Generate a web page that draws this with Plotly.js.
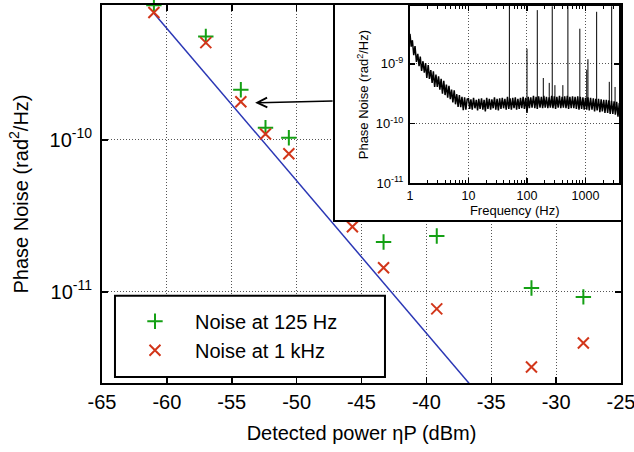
<!DOCTYPE html>
<html><head><meta charset="utf-8">
<script src="https://cdn.plot.ly/plotly-3.0.1.min.js"></script>
<style>html,body{margin:0;padding:0;background:#fff}#chart{width:634px;height:452px}</style>
</head><body><div id="chart"></div>
<script>
// ---- main chart data ----
const power125 = [-61.0, -57.0, -54.3, -52.4, -50.6, -43.3, -39.2, -31.9, -27.9];
const noise125 = [7.66e-10, 4.77e-10, 2.13e-10, 1.2e-10, 1.03e-10, 2.13e-11, 2.33e-11, 1.06e-11, 9.27e-12];
const power1k = [-61.0, -57.0, -54.3, -52.4, -50.6, -45.7, -43.3, -39.2, -31.9, -27.9];
const noise1k = [6.86e-10, 4.35e-10, 1.78e-10, 1.09e-10, 8.09e-11, 2.68e-11, 1.44e-11, 7.73e-12, 3.21e-12, 4.61e-12];
const limitPower = [-61.0, -36.7];
const limitNoise = [6.8e-10, 2.5e-12];
const seriesNames = ['Noise at 125 Hz', 'Noise at 1 kHz'];

const mainXTickVals = [-65, -60, -55, -50, -45, -40, -35, -30, -25];
const mainXTickText = ['-65', '-60', '-55', '-50', '-45', '-40', '-35', '-30', '-25'];
const mainYTickVals = [1e-11, 1e-10];
const mainYTickText = ['10<sup>-11</sup>', '10<sup>-10</sup>'];

// ---- inset spectrum data ----
const specFreq = [
  1, 1.05, 1.1, 1.16, 1.22, 1.29, 1.36, 1.43, 1.5, 1.58, 1.67, 1.76, 1.85, 1.94, 2.05,
  2.15, 2.27, 2.39, 2.51, 2.64, 2.78, 2.93, 3.08, 3.24, 3.41, 3.59, 3.78, 3.98, 4.19, 4.41,
  4.64, 4.89, 5.14, 5.41, 5.7, 6, 6.31, 6.64, 6.99, 7.36, 7.74, 8.15, 8.58, 9.03, 9.5,
  10, 10.5, 11, 11.6, 12.2, 12.9, 13.6, 14.3, 15, 15.8, 16.7, 17.6, 18.5, 19.4, 20.5,
  21.5, 22.7, 23.9, 25.1, 26.4, 27.8, 29.3, 30.8, 32.4, 34.1, 35.9, 37.8, 39.8, 41.9, 44.1,
  46.4, 48.9, 51.4, 54.1, 57, 60, 63.1, 66.4, 69.9, 73.6, 77.4, 81.5, 85.8, 90.3, 95,
  100, 105, 110, 116, 122, 129, 136, 143, 150, 158, 167, 176, 185, 194, 205,
  215, 227, 239, 251, 264, 278, 293, 308, 324, 341, 359, 378, 398, 419, 441,
  464, 489, 514, 541, 570, 600, 631, 664, 699, 736, 774, 815, 858, 903, 950,
  1000, 1050, 1100, 1160, 1220, 1290, 1360, 1430, 1500, 1580, 1670, 1760, 1850, 1940, 2050,
  2150, 2270, 2390, 2510, 2640, 2780, 2930, 3080, 3240, 3410, 3590, 3780
];
const specNoise = [
  3.2e-9, 1.95e-9, 2.5e-9, 1.4e-9, 2.0e-9, 1.08e-9, 1.48e-9, 9.2e-10, 1.33e-9, 7.6e-10,
  1.11e-9, 7.1e-10, 1.03e-9, 5.8e-10, 9.6e-10, 5.6e-10, 7.9e-10, 4.8e-10, 7.5e-10, 4.1e-10,
  6.6e-10, 4.1e-10, 6.2e-10, 3.7e-10, 5.6e-10, 3.15e-10, 5.2e-10, 3.0e-10, 4.5e-10, 2.7e-10,
  4.3e-10, 2.56e-10, 3.7e-10, 2.26e-10, 3.6e-10, 2.1e-10, 3.1e-10, 1.9e-10, 3.0e-10, 1.88e-10,
  2.8e-10, 1.68e-10, 2.74e-10, 1.71e-10, 2.57e-10,
  2.6e-10, 1.75e-10, 2.55e-10, 1.7e-10, 2.7e-10, 1.8e-10, 2.5e-10, 1.65e-10, 2.6e-10, 1.75e-10,
  2.65e-10, 1.7e-10, 2.5e-10, 1.6e-10, 2.7e-10, 1.75e-10, 2.6e-10, 1.7e-10, 2.55e-10, 1.8e-10,
  2.75e-10, 1.7e-10, 2.6e-10, 1.65e-10, 2.65e-10, 1.75e-10, 2.7e-10, 1.8e-10, 2.6e-10, 1.7e-10,
  2.8e-10, 1.75e-10, 2.65e-10, 1.7e-10, 2.7e-10, 1.8e-10, 2.75e-10, 1.7e-10, 2.6e-10, 1.75e-10,
  2.7e-10, 1.8e-10, 2.8e-10, 1.75e-10, 2.7e-10,
  1.5e-10, 2.8e-10, 1.8e-10, 2.75e-10, 1.85e-10, 2.9e-10, 1.8e-10, 2.8e-10, 1.75e-10, 2.85e-10,
  1.85e-10, 2.8e-10, 1.8e-10, 2.9e-10, 1.85e-10, 2.8e-10, 1.8e-10, 2.75e-10, 1.85e-10, 2.9e-10,
  1.8e-10, 2.85e-10, 1.75e-10, 2.8e-10, 1.85e-10, 2.9e-10, 1.8e-10, 2.8e-10, 1.85e-10, 2.85e-10,
  1.8e-10, 2.9e-10, 1.75e-10, 2.8e-10, 1.8e-10, 2.85e-10, 1.8e-10, 2.8e-10, 1.75e-10, 2.85e-10,
  1.7e-10, 2.8e-10, 1.75e-10, 2.75e-10, 1.7e-10,
  2.7e-10, 1.7e-10, 2.75e-10, 1.65e-10, 2.7e-10, 1.7e-10, 2.65e-10, 1.6e-10, 2.6e-10, 1.65e-10,
  2.6e-10, 1.55e-10, 2.55e-10, 1.6e-10, 2.5e-10, 1.5e-10, 2.5e-10, 1.5e-10, 2.45e-10, 1.45e-10,
  2.4e-10, 1.45e-10, 2.35e-10, 1.4e-10, 2.3e-10, 1.3e-10, 2.2e-10
];
const spikeFreq = [50, 100, 150, 190, 240, 270, 300, 410, 500, 800, 1050, 1100, 1550, 2550, 2800, 3200];
const spikePeak = [2e-8, 1.8e-9, 8e-9, 5.8e-10, 4.8e-10, 2e-8, 4.4e-10, 4.4e-10, 2e-8, 3.9e-9, 8e-10, 1.2e-9, 7.5e-9, 5e-10, 2e-8, 4.1e-10];
const spikeBase = 2.0e-10;

const insetXTickVals = [1, 10, 100, 1000];
const insetXTickText = ['1', '10', '100', '1000'];
const insetYTickVals = [1e-11, 1e-10, 1e-9];
const insetYTickText = ['10<sup>-11</sup>', '10<sup>-10</sup>', '10<sup>-9</sup>'];

const FONT = 'Liberation Sans, Arial, Helvetica, sans-serif';

const spikeX = [], spikeY = [];
spikeFreq.forEach((f, i) => { spikeX.push(f, f, null); spikeY.push(spikeBase, spikePeak[i], null); });

const green = '#14a014', red = '#d2361a', blue = '#2b37b5';

const traces = [
  {x: limitPower, y: limitNoise, mode: 'lines', line: {color: blue, width: 1.5}, showlegend: false, hoverinfo: 'skip'},
  {x: power125, y: noise125, mode: 'markers', name: seriesNames[0], cliponaxis: false,
   marker: {symbol: 'cross-thin', size: 11, color: green, line: {color: green, width: 2}}},
  {x: power1k, y: noise1k, mode: 'markers', name: seriesNames[1], cliponaxis: false,
   marker: {symbol: 'x-thin', size: 11, color: red, line: {color: red, width: 2}}},
  {x: [], y: [], xaxis: 'x2', yaxis: 'y2', showlegend: false, hoverinfo: 'skip'},
  {x: specFreq, y: specNoise, xaxis: 'x3', yaxis: 'y3', mode: 'lines', line: {color: '#000', width: 1.5}, showlegend: false, hoverinfo: 'skip'},
  {x: spikeX, y: spikeY, xaxis: 'x3', yaxis: 'y3', mode: 'lines', line: {color: '#000', width: 1}, showlegend: false, connectgaps: false, hoverinfo: 'skip'}
];

const frame = {showline: true, linecolor: '#000', linewidth: 2, zeroline: false, fixedrange: true};
const grid = {showgrid: true, gridcolor: '#555', griddash: '1px,2px', gridwidth: 1};

const layout = {
  width: 634, height: 452,
  margin: {l: 102, r: 13, t: 5, b: 69},
  paper_bgcolor: '#fff', plot_bgcolor: '#fff',
  font: {family: FONT, size: 20, color: '#000'},
  showlegend: true,
  xaxis: Object.assign({}, frame, grid, {
    domain: [0, 1], range: [-65, -25], tickvals: mainXTickVals, ticktext: mainXTickText,
    ticks: 'inside', ticklen: 6, tickwidth: 1.5, tickcolor: '#000', mirror: 'ticks',
    ticklabelstandoff: 0, ticklabeloverflow: 'allow', tickfont: {size: 20},
    title: {text: 'Detected power ηP (dBm)', font: {size: 20}, standoff: 14}
  }),
  yaxis: Object.assign({}, frame, grid, {
    type: 'log', range: [-11.599, -9.114], tickvals: mainYTickVals, ticktext: mainYTickText,
    ticks: 'inside', ticklen: 6, tickwidth: 1.5, tickcolor: '#000', mirror: 'ticks',
    ticklabelstandoff: 4, tickfont: {size: 20},
    title: {text: 'Phase Noise (rad<sup>2</sup>/Hz)', font: {size: 20}, standoff: 16}
  }),
  xaxis2: Object.assign({}, frame, {domain: [0.449, 1], anchor: 'y2', mirror: true, showgrid: false, showticklabels: false, ticks: '', range: [0, 1]}),
  yaxis2: Object.assign({}, frame, {domain: [0.431, 1], anchor: 'x2', mirror: true, showgrid: false, showticklabels: false, ticks: '', range: [0, 1]}),
  xaxis3: Object.assign({}, frame, grid, {
    domain: [0.5934, 0.997], anchor: 'y3', type: 'log', range: [0, 3.58],
    tickvals: insetXTickVals, ticktext: insetXTickText,
    ticks: 'inside', ticklen: 5, tickwidth: 1.5, tickcolor: '#000', mirror: 'ticks',
    minor: {ticks: 'inside', ticklen: 3, tickwidth: 1, tickcolor: '#000', dtick: 'D1', showgrid: false},
    tickfont: {size: 12.5}, ticklabelstandoff: 0,
    title: {text: 'Frequency (Hz)', font: {size: 13}, standoff: 2}
  }),
  yaxis3: Object.assign({}, frame, grid, {
    domain: [0.529, 0.997], anchor: 'x3', type: 'log', range: [-11, -8.03],
    tickvals: insetYTickVals, ticktext: insetYTickText,
    ticks: 'inside', ticklen: 5, tickwidth: 1.5, tickcolor: '#000', mirror: 'ticks',
    tickfont: {size: 13}, ticklabelstandoff: 2,
    title: {text: 'Phase Noise (rad<sup>2</sup>/Hz)', font: {size: 13}, standoff: 4}
  }),
  legend: {x: 0.025, y: 0.215, xanchor: 'left', yanchor: 'top', bgcolor: 'rgba(0,0,0,0)',
           borderwidth: 0, itemwidth: 70, font: {size: 20, family: FONT}},
  shapes: [{type: 'rect', xref: 'x', yref: 'y', x0: -64.0, x1: -43.19, y0: 2.76e-12, y1: 9.42e-12,
            layer: 'between', fillcolor: '#fff', line: {color: '#000', width: 2}}],
  annotations: [{x: -53.2, y: -9.757, xref: 'x', yref: 'y', ax: 82, ay: -2, text: ' ',
                 showarrow: true, arrowhead: 5, arrowsize: 1.3, arrowwidth: 1.5, arrowcolor: '#000'}]
};

Plotly.newPlot('chart', traces, layout, {displayModeBar: false, staticPlot: true});
</script>
</body></html>
